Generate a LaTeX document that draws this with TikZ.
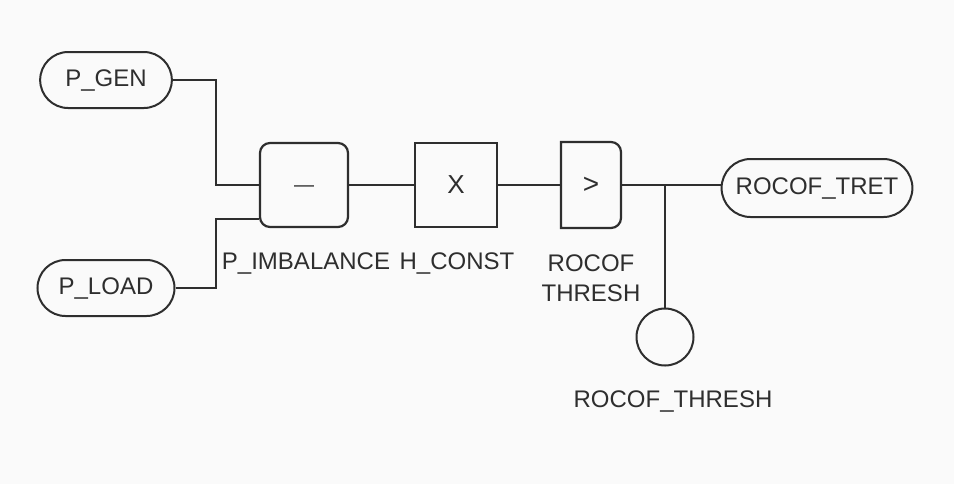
\documentclass[tikz,border=0pt]{standalone}
\usepackage{fontspec}
\setmainfont{Liberation Sans}
\usetikzlibrary{shapes.misc}
\definecolor{ink}{HTML}{2E2E2E}
\definecolor{paper}{HTML}{FAFAFA}

\begin{document}
\begin{tikzpicture}[
  x=0.5pt, y=-0.5pt, line width=1pt, draw=ink, text=ink,
  font=\fontsize{12}{15}\selectfont,
  pill/.style={draw, rounded rectangle, minimum height=28pt, inner xsep=6pt},
  opbox/.style={draw, line width=1.1pt, minimum width=41pt, minimum height=42pt},
  lbl/.style={align=center},
]
  % 背景与边界
  \fill[paper] (0,0) rectangle (954,484);
  \useasboundingbox (0,0) rectangle (954,484);

  % 输入
  \node[pill, inner xsep=11.5pt] (gen)  at (106,80)  {P\_GEN};
  \node[pill, inner xsep=9.5pt] (load) at (106,288) {P\_LOAD};

  % 运算块
  \node[opbox, rounded corners=5pt, minimum width=44pt] (sub) at (304,185)
    {\fontsize{10}{10}\selectfont\raisebox{-3pt}[0pt][0pt]{---}};
  \node[opbox, font=\fontsize{13}{13}\selectfont] (mul) at (456,185) {X};
  \node[minimum width=29pt, minimum height=42pt, font=\fontsize{14}{14}\selectfont] (cmp) at (591,185) {>};
  \draw[line width=1.1pt] (cmp.south) -- (cmp.south west) -- (cmp.north west) -- (cmp.north)
    [rounded corners=5pt] -- (cmp.north east) -- (cmp.south east) -- (cmp.south);

  % 输出
  \node[pill, minimum height=29pt] (tret) at (817,188) {ROCOF\_TRET};
  \node[draw, circle, minimum size=28.5pt, inner sep=0pt] (thr) at (665,337) {};

  % 连线
  \draw (gen.east) -| ([xshift=-21.5pt]sub.west) -- (sub.west);
  \draw (load.east) -| ([xshift=-21.5pt,yshift=-17pt]sub.west) -- ([yshift=-17pt]sub.west);
  \draw (sub.east) -- (mul.west);
  \draw (mul.east) -- (cmp.west);
  \draw (cmp.east) -- (cmp.east -| tret.west);
  \coordinate (tap) at (thr.north |- cmp.east);
  \draw (tap) -- (thr.north);

  % 标签
  \node[lbl] (lsub) at (306,263) {P\_IMBALANCE};
  \node[lbl] (lmul) at (457,263) {H\_CONST};
  \node[lbl] (lcmp) at (591,278) {ROCOF\\THRESH};
  \node[lbl] (lthr) at (673,401) {ROCOF\_THRESH};
\end{tikzpicture}
\end{document}
